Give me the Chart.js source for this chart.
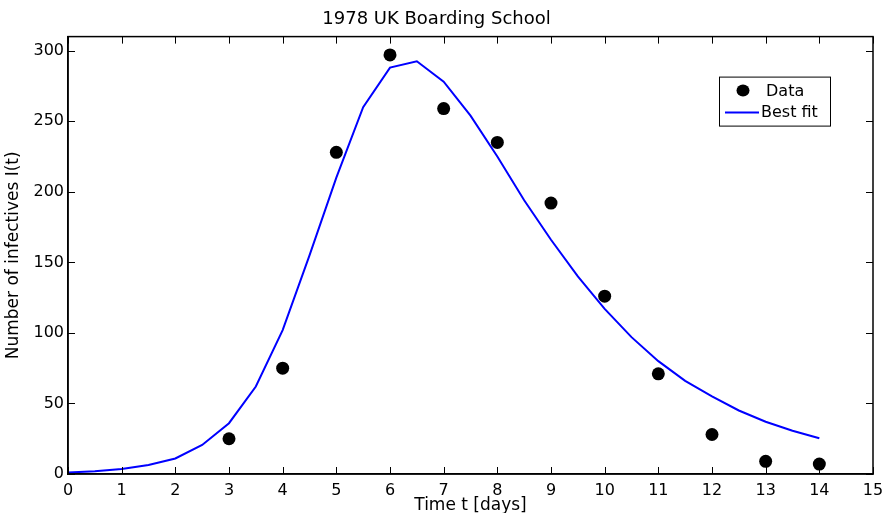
<!DOCTYPE html>
<html>
<head>
<meta charset="utf-8">
<script src="https://cdn.jsdelivr.net/npm/chart.js@4.4.1/dist/chart.umd.min.js"></script>
<style>
  html, body { margin: 0; padding: 0; background: #fff; }
  #wrap { width: 884px; height: 513px; position: relative; }
</style>
</head>
<body>
<div id="wrap"><canvas id="c" width="884" height="513"></canvas></div>
<script>
// ---- data ----
const chartTitle = "1978 UK Boarding School";
const xAxisTitle = "Time t [days]";
const yAxisTitle = "Number of infectives I(t)";

const dataDays  = [3, 4, 5, 6, 7, 8, 9, 10, 11, 12, 13, 14];
const dataCases = [25, 75, 228, 297, 259, 235, 192, 126, 71, 28, 9, 7];

const fitTimes  = [0, 0.5, 1, 1.5, 2, 2.5, 3, 3.5, 4, 4.5, 5, 5.5, 6, 6.5, 7, 7.5,
                   8, 8.5, 9, 9.5, 10, 10.5, 11, 11.5, 12, 12.5, 13, 13.5, 14];
const fitValues = [1, 2, 3.5, 6.4, 11, 20.6, 36, 62, 102, 155, 210, 260, 288, 292.5, 278, 254,
                   225, 194, 166, 140, 117, 97, 80, 66, 55, 45, 37, 30.7, 25.3];

const xTickValues = [0, 1, 2, 3, 4, 5, 6, 7, 8, 9, 10, 11, 12, 13, 14, 15];
const yTickValues = [0, 50, 100, 150, 200, 250, 300];

const dataLabel = "Data";
const fitLabel = "Best fit";

// ---- chart ----
const FONT = "'DejaVu Sans', sans-serif";

const frameAndTicks = {
  id: 'frameAndTicks',
  afterDatasetsDraw(chart) {
    const {ctx, chartArea: a, scales} = chart;
    const len = 7;
    ctx.save();
    ctx.strokeStyle = '#000';
    ctx.lineWidth = 1;
    scales.x.ticks.forEach(t => {
      const px = Math.round(scales.x.getPixelForValue(t.value)) + 0.5;
      ctx.beginPath();
      ctx.moveTo(px, a.bottom); ctx.lineTo(px, a.bottom - len);
      ctx.moveTo(px, a.top); ctx.lineTo(px, a.top + len);
      ctx.stroke();
    });
    scales.y.ticks.forEach(t => {
      const py = Math.round(scales.y.getPixelForValue(t.value)) + 0.5;
      ctx.beginPath();
      ctx.moveTo(a.left, py); ctx.lineTo(a.left + len, py);
      ctx.moveTo(a.right, py); ctx.lineTo(a.right - len, py);
      ctx.stroke();
    });
    ctx.lineWidth = 1.5;
    ctx.strokeRect(a.left, a.top, a.right - a.left, a.bottom - a.top);
    ctx.restore();
  }
};

const boxLegend = {
  id: 'boxLegend',
  afterDraw(chart) {
    const {ctx, chartArea: a} = chart;
    const ds = chart.data.datasets;
    const bx = a.right - 154, by = a.top + 40, bw = 111, bh = 49;
    ctx.save();
    ctx.fillStyle = '#fff';
    ctx.fillRect(bx, by, bw, bh);
    ctx.strokeStyle = '#000';
    ctx.lineWidth = 1;
    ctx.strokeRect(bx + 0.5, by + 0.5, bw, bh);
    ctx.font = "16px " + FONT;
    ctx.textBaseline = 'middle';
    ctx.textAlign = 'left';
    // Data row
    ctx.fillStyle = ds[0].backgroundColor;
    ctx.beginPath();
    ctx.ellipse(bx + 24, by + 14, 6.5, 6, 0, 0, Math.PI * 2);
    ctx.fill();
    ctx.fillStyle = '#000';
    ctx.fillText(ds[0].label, bx + 47, by + 15);
    // Best fit row
    ctx.strokeStyle = ds[1].borderColor;
    ctx.lineWidth = 2;
    ctx.beginPath();
    ctx.moveTo(bx + 6, by + 36); ctx.lineTo(bx + 40, by + 36);
    ctx.stroke();
    ctx.fillStyle = '#000';
    ctx.fillText(ds[1].label, bx + 42, by + 36);
    ctx.restore();
  }
};

new Chart(document.getElementById('c'), {
  type: 'scatter',
  data: {
    datasets: [
      {
        label: dataLabel,
        data: dataDays.map((d, i) => ({x: d, y: dataCases[i]})),
        showLine: false,
        pointRadius: 6.5,
        pointHoverRadius: 6.5,
        backgroundColor: '#000',
        borderColor: '#000',
        borderWidth: 0,
        order: 1
      },
      {
        label: fitLabel,
        data: fitTimes.map((t, i) => ({x: t, y: fitValues[i]})),
        showLine: true,
        pointRadius: 0,
        borderColor: '#0000ff',
        backgroundColor: '#0000ff',
        borderWidth: 2,
        tension: 0,
        fill: false,
        order: 2
      }
    ]
  },
  options: {
    responsive: false,
    animation: false,
    layout: { padding: { left: 0, right: 11, top: 0, bottom: 0 } },
    plugins: {
      legend: { display: false },
      tooltip: { enabled: false },
      title: {
        display: true,
        text: chartTitle,
        color: '#000',
        font: { family: FONT, size: 18, weight: 'normal' },
        padding: { top: 9, bottom: 6 }
      }
    },
    scales: {
      x: {
        type: 'linear',
        min: 0, max: 15,
        afterBuildTicks: s => { s.ticks = xTickValues.map(v => ({value: v})); },
        afterFit: s => { s.height = 39; s.paddingRight = 0; s.paddingLeft = 0; },
        grid: { display: false, drawTicks: false },
        border: { display: true, color: '#000', width: 1.5 },
        ticks: {
          color: '#000',
          padding: 7,
          maxRotation: 0,
          autoSkip: false,
          font: { family: FONT, size: 16 }
        },
        title: {
          display: true,
          text: xAxisTitle,
          color: '#000',
          font: { family: FONT, size: 17 },
          padding: { top: 0, bottom: -3 }
        }
      },
      y: {
        type: 'linear',
        min: 0, max: 310,
        afterBuildTicks: s => { s.ticks = yTickValues.map(v => ({value: v})); },
        afterFit: s => { s.width = 68; s.paddingTop = 0; s.paddingBottom = 0; },
        grid: { display: false, drawTicks: false },
        border: { display: true, color: '#000', width: 1.5 },
        ticks: {
          color: '#000',
          padding: 4,
          autoSkip: false,
          font: { family: FONT, size: 16 }
        },
        title: {
          display: true,
          text: yAxisTitle,
          color: '#000',
          font: { family: FONT, size: 17 },
          padding: { top: 3, bottom: 0 }
        }
      }
    }
  },
  plugins: [frameAndTicks, boxLegend]
});
</script>
</body>
</html>
